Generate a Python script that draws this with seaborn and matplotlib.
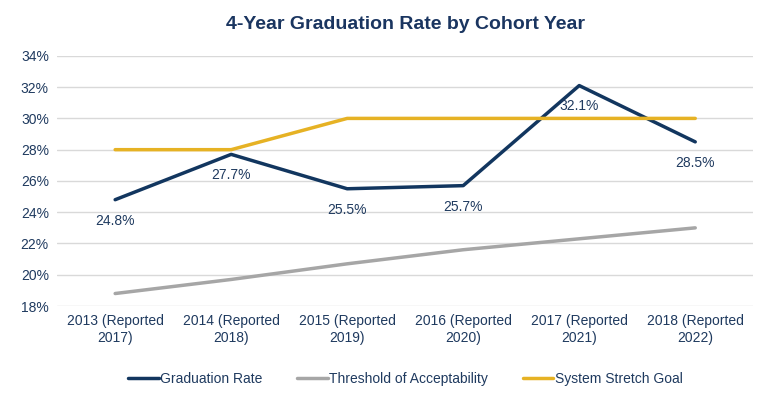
import pandas as pd
import matplotlib
matplotlib.use("Agg")
import matplotlib.pyplot as plt
import seaborn as sns
from matplotlib.ticker import FuncFormatter

cohorts = ["2013 (Reported\n2017)", "2014 (Reported\n2018)", "2015 (Reported\n2019)",
           "2016 (Reported\n2020)", "2017 (Reported\n2021)", "2018 (Reported\n2022)"]
grad_rate = [24.8, 27.7, 25.5, 25.7, 32.1, 28.5]
threshold = [18.8, 19.7, 20.7, 21.6, 22.3, 23.0]
stretch_goal = [28.0, 28.0, 30.0, 30.0, 30.0, 30.0]

navy = "#12365F"
gray = "#A6A6A6"
gold = "#E6B224"
text_col = "#1F3A5F"

df = pd.DataFrame({
    "Cohort": cohorts * 3,
    "Rate": grad_rate + threshold + stretch_goal,
    "Series": ["Graduation Rate"] * 6 + ["Threshold of Acceptability"] * 6 + ["System Stretch Goal"] * 6,
})

sns.set_theme(style="white")
plt.rcParams["font.family"] = ["Liberation Sans", "DejaVu Sans"]

fig = plt.figure(figsize=(7.83, 3.99), dpi=100)
ax = fig.add_axes([0.073, 0.233, 0.889, 0.627])

sns.lineplot(data=df, x="Cohort", y="Rate", hue="Series", sort=False,
             palette={"Graduation Rate": navy, "Threshold of Acceptability": gray,
                      "System Stretch Goal": gold},
             hue_order=["Graduation Rate", "Threshold of Acceptability", "System Stretch Goal"],
             linewidth=2.5, ax=ax, legend=True)

# data labels below graduation rate points
for i, v in enumerate(grad_rate):
    ax.annotate(f"{v:.1f}%", (i, v), xytext=(0, -10), textcoords="offset points",
                ha="center", va="top", fontsize=10, color=text_col)

ax.set_xlim(-0.5, len(cohorts) - 0.5)
ax.set_ylim(18, 34)
ax.set_yticks(range(18, 35, 2))
ax.yaxis.set_major_formatter(FuncFormatter(lambda v, p: f"{v:.0f}%"))
ax.grid(axis="y", color="#D9D9D9", linewidth=1)
ax.set_axisbelow(True)
for s in ax.spines.values():
    s.set_visible(False)
ax.tick_params(axis="both", length=0, labelsize=10, labelcolor=text_col, pad=6)
ax.set_xlabel("")
ax.set_ylabel("")

ax.set_title("4-Year Graduation Rate by Cohort Year", fontsize=14, fontweight="bold",
             color="#1A3560", pad=19)

handles, labels = ax.get_legend_handles_labels()
ax.legend(handles, labels, loc="upper center", bbox_to_anchor=(0.5, -0.215), ncol=3,
          frameon=False, fontsize=10, labelcolor=text_col, handlelength=2.2,
          handletextpad=0.1, columnspacing=2.5)

fig.savefig("out.png", dpi=100)
